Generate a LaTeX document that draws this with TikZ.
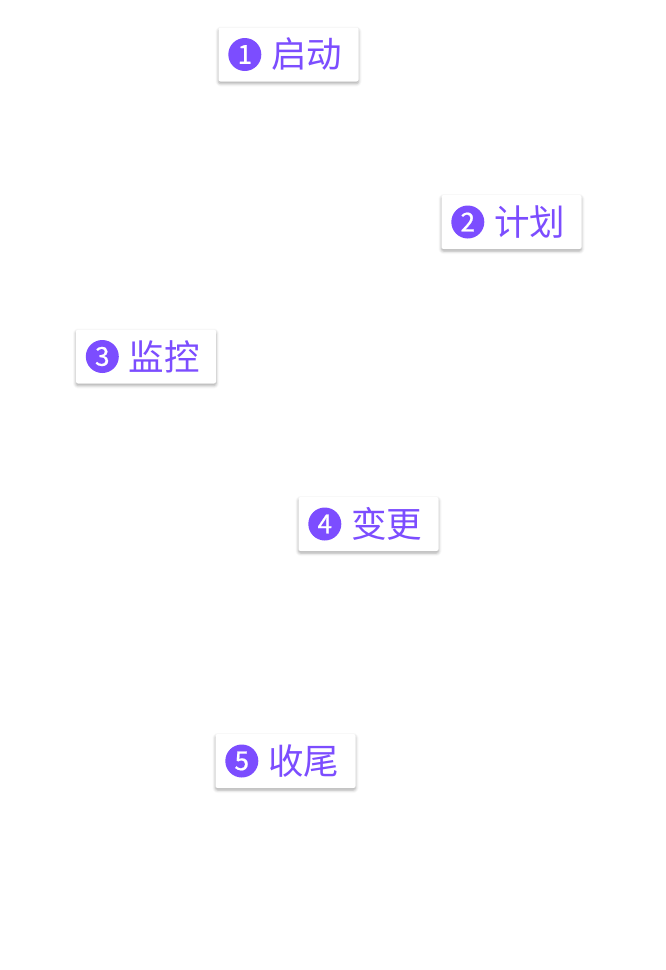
\documentclass[tikz,border=0pt]{standalone}
\usepackage{fontspec}
\newfontfamily\cjk{Noto Sans CJK SC}
\newfontfamily\cjknum[FakeBold=0.7]{Noto Sans CJK SC}
\usetikzlibrary{positioning, shadows.blur}

\definecolor{stagepurple}{HTML}{7C4DFF}

\tikzset{
  stagebox/.style={draw=none, fill=white, rounded corners=2pt,
    minimum width=140pt, minimum height=54pt, inner sep=0pt,
    blur shadow={shadow xshift=0pt, shadow yshift=-2pt, shadow blur radius=3pt, shadow opacity=35}},
  stagenum/.style={circle, fill=stagepurple, text=white, minimum size=33pt, inner sep=0pt,
    font=\cjknum\fontsize{26}{26}\selectfont},
  stagetext/.style={text=stagepurple, inner sep=0pt, anchor=west,
    font=\cjk\fontsize{35.5}{35.5}\selectfont}
}

\begin{document}
\begin{tikzpicture}[x=1pt, y=-1pt]
\useasboundingbox (0,0) rectangle (665,970);

% stage boxes
\node[stagebox] (start)   at (288.5,54.5) {};
\node[stagebox] (plan)    at (511.5,222) {};
\node[stagebox] (monitor) at (146,356.5) {};
\node[stagebox] (change)  at (368.5,524) {};
\node[stagebox] (close)   at (285.5,761) {};

% numbers and labels
\node[stagenum] (startnum) at ([xshift=26.5pt]start.west) {1};
\node[stagetext, right=9.5pt of startnum] (starttext) {启动};
\node[stagenum] (plannum) at ([xshift=26.5pt]plan.west) {2};
\node[stagetext, right=9.5pt of plannum] (plantext) {计划};
\node[stagenum] (monitornum) at ([xshift=26.5pt]monitor.west) {3};
\node[stagetext, right=9.5pt of monitornum] (monitortext) {监控};
\node[stagenum] (changenum) at ([xshift=26.5pt]change.west) {4};
\node[stagetext, right=9.5pt of changenum] (changetext) {变更};
\node[stagenum] (closenum) at ([xshift=26.5pt]close.west) {5};
\node[stagetext, right=9.5pt of closenum] (closetext) {收尾};
\end{tikzpicture}
\end{document}
